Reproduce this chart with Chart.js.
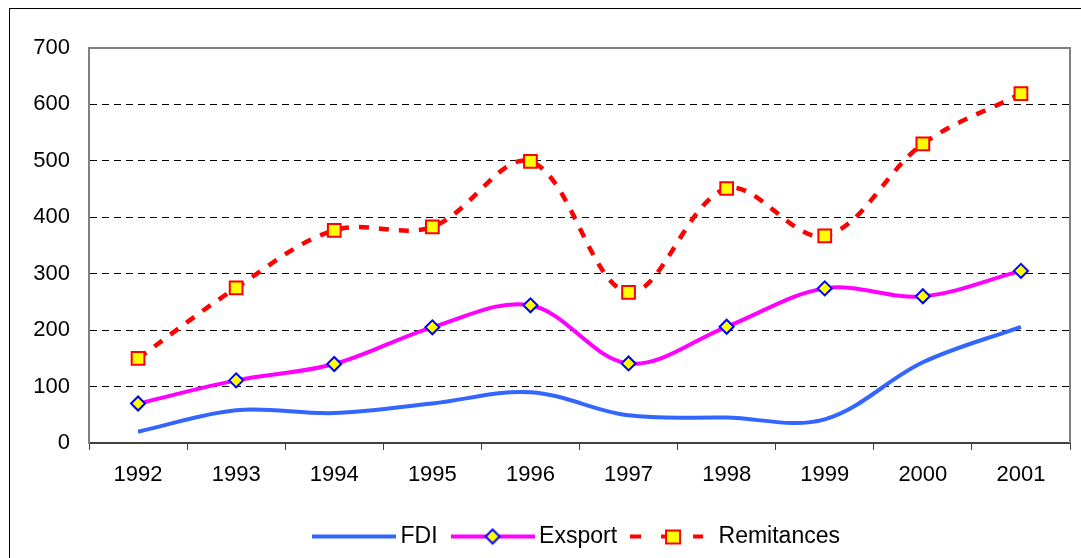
<!DOCTYPE html>
<html>
<head>
<meta charset="utf-8">
<script src="https://cdn.jsdelivr.net/npm/chart.js@4"></script>
<style>
  body { margin: 0; background: #fff; }
  #wrap { width: 1081px; height: 558px; position: relative; }
</style>
</head>
<body>
<div id="wrap"><canvas id="lines"></canvas></div>
<script>
// 연도별 값
const years = ['1992', '1993', '1994', '1995', '1996', '1997', '1998', '1999', '2000', '2001'];
const fdi = [20, 58, 53, 70, 90, 49, 45, 42, 143, 206];
const exsport = [70, 111, 140, 205, 244, 141, 206, 274, 260, 305];
const remitances = [150, 275, 377, 383, 499, 267, 451, 367, 530, 619];
const yTicks = [0, 100, 200, 300, 400, 500, 600, 700];

Chart.defaults.font.family = "'Liberation Sans', Arial, sans-serif";
Chart.defaults.color = '#000';

// legend symbol: line + marker, drawn to a small canvas
function legendSymbol(kind){
    const c = document.createElement('canvas');
    c.width = 84; c.height = 18;
    const g = c.getContext('2d');
    if (kind === 'fdi') {
        g.fillStyle = '#3366FF';
        g.fillRect(0, 7, 84, 4);
    } else if (kind === 'exsport') {
        g.fillStyle = '#FF00FF';
        g.fillRect(0, 7, 84, 4);
        g.beginPath();
        g.moveTo(42, 2); g.lineTo(49, 9); g.lineTo(42, 16); g.lineTo(35, 9); g.closePath();
        g.fillStyle = '#FFFF00'; g.fill();
        g.lineWidth = 2; g.strokeStyle = '#0000FF'; g.stroke();
    } else {
        g.fillStyle = '#FF0000';
        g.fillRect(0, 7, 11, 4);
        g.fillRect(31, 7, 11, 4);
        g.fillRect(63, 7, 10, 4);
        g.fillStyle = '#FFFF00';
        g.fillRect(36, 3, 14, 13);
        g.lineWidth = 2; g.strokeStyle = '#FF0000';
        g.strokeRect(36, 3, 14, 13);
    }
    return c;
}

// outer frame + plot frame
const frames = {
    id: 'frames',
    beforeDraw(chart){
        const c = chart.ctx;
        c.save();
        c.fillStyle = '#fff';
        c.fillRect(0, 0, chart.width, chart.height);
        c.strokeStyle = '#000';
        c.lineWidth = 1;
        c.strokeRect(9.5, 8.5, 1200, 700);
        c.restore();
    },
    afterDraw(chart){
        const a = chart.chartArea;
        const c = chart.ctx;
        c.save();
        c.strokeStyle = '#808080';
        c.lineWidth = 2;
        c.beginPath();
        c.moveTo(a.left, a.top);
        c.lineTo(a.right, a.top);
        c.lineTo(a.right, a.bottom);
        c.stroke();
        c.restore();
    }
};

function makeLines(){
    const ctx = document.getElementById('lines').getContext('2d');
    const lines = new Chart(ctx, {
        type: 'line',
        data: {
            labels: years,
            datasets: [{
                label: 'FDI',
                data: fdi,
                borderColor: '#3366FF',
                borderWidth: 4,
                pointRadius: 0,
                tension: 0.35
            },
            {
                label: 'Exsport',
                data: exsport,
                borderColor: '#FF00FF',
                borderWidth: 4,
                pointStyle: 'rectRot',
                pointRadius: 7,
                pointBackgroundColor: '#FFFF00',
                pointBorderColor: '#0000FF',
                pointBorderWidth: 2,
                tension: 0.35
            },
            {
                label: 'Remitances',
                data: remitances,
                borderColor: '#FF0000',
                borderWidth: 4.5,
                borderDash: [10, 10],
                pointStyle: 'rect',
                pointRadius: 9,
                pointBackgroundColor: '#FFFF00',
                pointBorderColor: '#FF0000',
                pointBorderWidth: 2,
                tension: 0.35
            }]
        },
        options: {
            responsive: true,
            maintainAspectRatio: false,
            animation: false,
            layout: { padding: { left: 9, right: 10, top: 48, bottom: 0 } },
            plugins: {
                tooltip: { enabled: false },
                legend: {
                    position: 'bottom',
                    fullSize: false,
                    labels: {
                        usePointStyle: true,
                        pointStyleWidth: 70,
                        padding: 20,
                        font: { size: 23 },
                        color: '#000',
                        generateLabels: (chart) => {
                            const kinds = ['fdi', 'exsport', 'rem'];
                            return chart.data.datasets.map((ds, i) => ({
                                text: ds.label,
                                pointStyle: legendSymbol(kinds[i]),
                                fillStyle: 'transparent',
                                strokeStyle: 'transparent',
                                lineWidth: 0,
                                hidden: false,
                                datasetIndex: i,
                                fontColor: '#000'
                            }));
                        }
                    }
                }
            },
            scales: {
                x: {
                    offset: true,
                    grid: {
                        offset: true,
                        drawOnChartArea: false,
                        drawTicks: true,
                        tickLength: 7,
                        color: '#404040',
                        lineWidth: 1
                    },
                    border: { color: '#404040', width: 2 },
                    ticks: { font: { size: 22 }, color: '#000', padding: 12, maxRotation: 0 },
                    afterFit: (s) => { s.height = 62; }
                },
                y: {
                    min: 0,
                    max: 700,
                    afterBuildTicks: (s) => { s.ticks = yTicks.map(v => ({ value: v })); },
                    grid: {
                        drawTicks: false,
                        color: (c) => (c.tick && (c.tick.value === 0 || c.tick.value === 700)) ? 'rgba(0,0,0,0)' : '#000',
                        lineWidth: 1
                    },
                    border: { color: '#808080', width: 2, dash: [7, 5] },
                    ticks: { font: { size: 22 }, color: '#000', padding: 19 },
                    afterFit: (s) => { s.width = 80; }
                }
            }
        },
        plugins: [frames]
    });
}

makeLines();
</script>
</body>
</html>
